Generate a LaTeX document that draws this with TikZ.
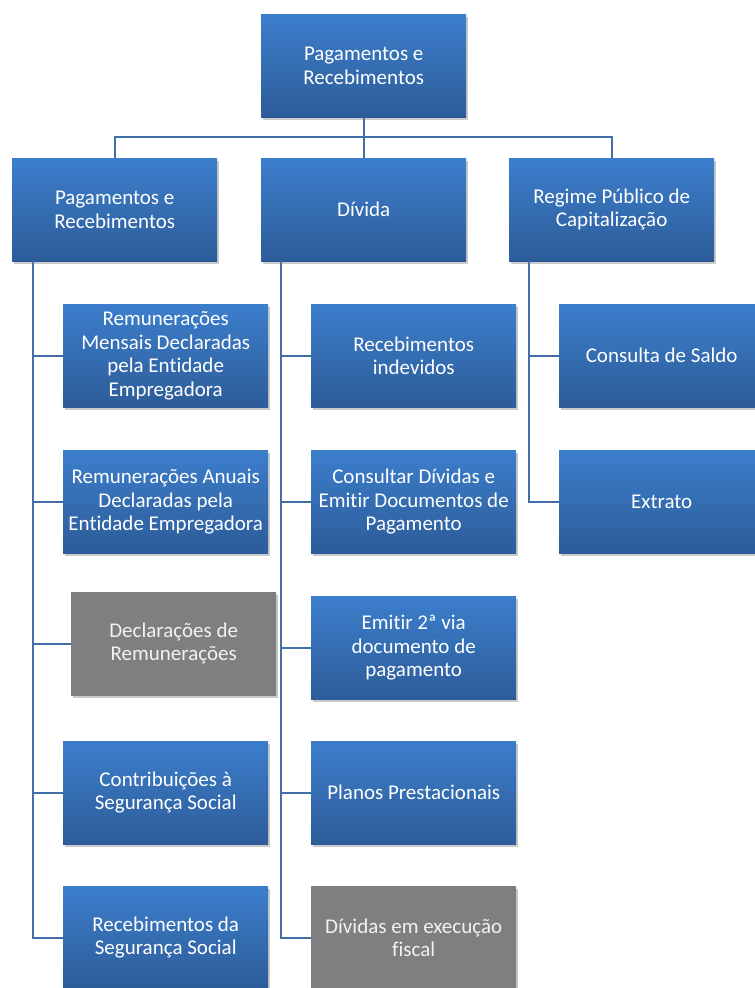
\documentclass[tikz,border=0pt]{standalone}
\usepackage{fontspec}
\setmainfont[Ligatures=NoCommon]{Carlito}
\usetikzlibrary{shadows}
\definecolor{boxtop}{RGB}{60,126,204}
\definecolor{boxbot}{RGB}{45,92,152}
\definecolor{linec}{RGB}{64,110,166}
\definecolor{grayfill}{RGB}{127,127,127}
\definecolor{graytext}{RGB}{242,242,242}
\tikzset{
  bluebox/.style={rectangle, anchor=north west, minimum width=205pt, minimum height=103pt,
    inner sep=2pt, top color=boxtop, bottom color=boxbot, text=white, align=center,
    font=\fontsize{21}{23.5}\selectfont,
    drop shadow={opacity=0.35, shadow xshift=2pt, shadow yshift=-3pt, fill=black!60}},
  graybox/.style={bluebox, top color=grayfill, bottom color=grayfill, fill=grayfill, text=graytext},
  conn/.style={draw=linec, line width=2pt}
}
\begin{document}
\begin{tikzpicture}[x=1pt, y=-1pt]
\useasboundingbox (0,0) rectangle (755,988);
\clip (0,0) rectangle (755,988);
% top
\node[bluebox] (top) at (261,14) {Pagamentos e\\Recebimentos};
% level 2
\node[bluebox] (pr) at (12,158) {Pagamentos e\\Recebimentos};
\node[bluebox] (div) at (261,158) {Dívida};
\node[bluebox] (rpc) at (509,158) {Regime Público de\\Capitalização};
% left children
\node[bluebox] (a1) at (63,304) {Remunerações\\Mensais Declaradas\\pela Entidade\\Empregadora};
\node[bluebox] (a2) at (63,450) {Remunerações Anuais\\Declaradas pela\\Entidade Empregadora};
\node[graybox] (a3) at (71,592) {Declarações de\\Remunerações};
\node[bluebox] (a4) at (63,741) {Contribuições à\\Segurança Social};
\node[bluebox] (a5) at (63,886) {Recebimentos da\\Segurança Social};
% middle children
\node[bluebox] (b1) at (311,304) {Recebimentos\\indevidos};
\node[bluebox] (b2) at (311,450) {Consultar Dívidas e\\Emitir Documentos de\\Pagamento};
\node[bluebox] (b3) at (311,596) {Emitir 2ª via\\documento de\\pagamento};
\node[bluebox] (b4) at (311,741) {Planos Prestacionais};
\node[graybox] (b5) at (311,886) {Dívidas em execução\\fiscal};
% right children
\node[bluebox] (c1) at (559,304) {Consulta de Saldo};
\node[bluebox] (c2) at (559,450) {Extrato};
% connectors
\coordinate (hbar) at (0,137);
\draw[conn] (top.south) -- (top.south |- hbar) -| (pr.north);
\draw[conn] (top.south |- hbar) -- (div.north);
\draw[conn] (top.south |- hbar) -| (rpc.north);
\coordinate (lv) at (33,0);
\coordinate (mv) at (281,0);
\coordinate (rv) at (529,0);
\foreach \n in {a1,a2,a3,a4,a5}{\draw[conn] (lv |- pr.south) |- (\n.west);}
\foreach \n in {b1,b2,b3,b4,b5}{\draw[conn] (mv |- div.south) |- (\n.west);}
\foreach \n in {c1,c2}{\draw[conn] (rv |- rpc.south) |- (\n.west);}
\end{tikzpicture}
\end{document}
